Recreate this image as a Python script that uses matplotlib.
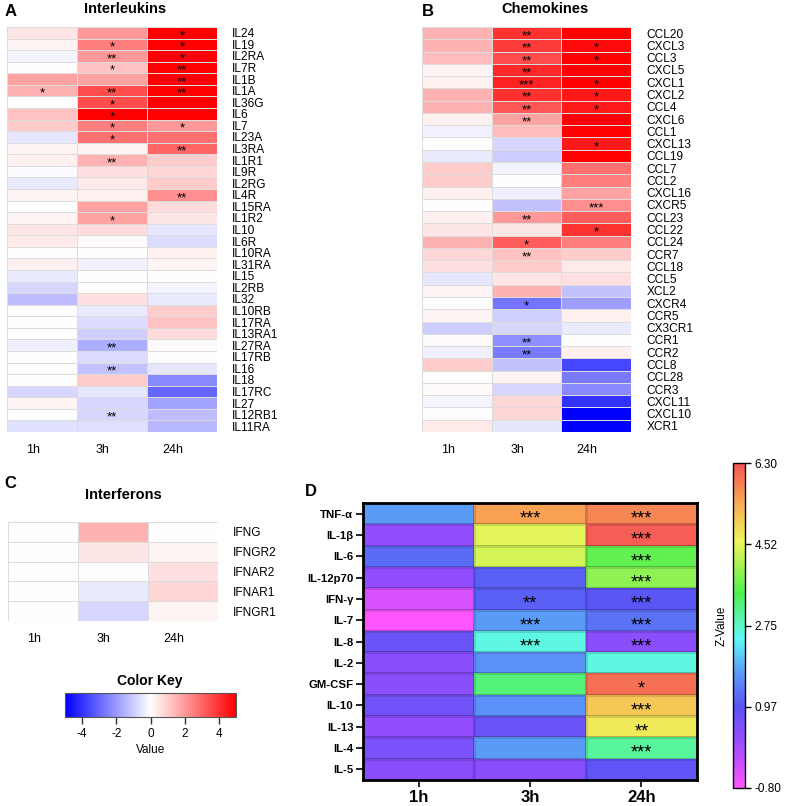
import numpy as np
import matplotlib
matplotlib.use('Agg')
import matplotlib.pyplot as plt
from matplotlib.colors import LinearSegmentedColormap, Normalize
from matplotlib.cm import ScalarMappable

plt.rcParams['font.family'] = ['Liberation Sans', 'DejaVu Sans']
plt.rcParams['axes.unicode_minus'] = False

# ---------------- data ----------------
timepoints = ['1h', '3h', '24h']

il_genes = ['IL24', 'IL19', 'IL2RA', 'IL7R', 'IL1B', 'IL1A', 'IL36G', 'IL6', 'IL7', 'IL23A',
            'IL3RA', 'IL1R1', 'IL9R', 'IL2RG', 'IL4R', 'IL15RA', 'IL1R2', 'IL10', 'IL6R',
            'IL10RA', 'IL31RA', 'IL15', 'IL2RB', 'IL32', 'IL10RB', 'IL17RA', 'IL13RA1',
            'IL27RA', 'IL17RB', 'IL16', 'IL18', 'IL17RC', 'IL27', 'IL12RB1', 'IL11RA']
il_1h = [0.5, 0.2, -0.2, 0.0, 1.8, 1.5, 0.0, 1.2, 1.0, -0.5, 0.2, 0.3, -0.1, -0.4, 0.2, 0.0,
         0.2, 0.5, 0.4, 0.0, 0.3, -0.4, -0.8, -1.3, 0.0, 0.0, 0.0, -0.3, 0.0, 0.0, 0.0, -0.8,
         0.2, 0.0, -0.6]
il_3h = [2.0, 2.5, 2.0, 1.2, 1.8, 3.5, 3.5, 5.0, 2.5, 2.8, 0.2, 1.5, 0.6, 0.4, 0.3, 1.8,
         1.8, 0.7, 0.1, 0.0, -0.3, 0.0, 0.0, 0.6, -0.4, -0.7, -0.9, -1.6, -0.7, -1.2, 1.0,
         -0.5, -0.8, -0.8, -0.6]
il_24h = [5.0, 5.0, 5.0, 5.0, 5.0, 5.0, 5.0, 5.0, 2.0, 2.8, 3.0, 1.0, 0.8, 1.0, 2.2, 0.7,
          0.5, -0.5, -0.7, 0.3, 0.2, 0.0, -0.2, -0.4, 1.0, 1.2, 0.7, 0.1, 0.0, -0.5, -2.3,
          -3.0, -1.8, -1.3, -1.4]
il_stars = {('IL24', '24h'): '*', ('IL19', '3h'): '*', ('IL19', '24h'): '*',
            ('IL2RA', '3h'): '**', ('IL2RA', '24h'): '*', ('IL7R', '3h'): '*',
            ('IL7R', '24h'): '**', ('IL1B', '24h'): '**', ('IL1A', '1h'): '*',
            ('IL1A', '3h'): '**', ('IL1A', '24h'): '**', ('IL36G', '3h'): '*',
            ('IL6', '3h'): '*', ('IL7', '3h'): '*', ('IL7', '24h'): '*',
            ('IL23A', '3h'): '*', ('IL3RA', '24h'): '**', ('IL1R1', '3h'): '**',
            ('IL4R', '24h'): '**', ('IL1R2', '3h'): '*', ('IL27RA', '3h'): '**',
            ('IL16', '3h'): '**', ('IL12RB1', '3h'): '**'}

ch_genes = ['CCL20', 'CXCL3', 'CCL3', 'CXCL5', 'CXCL1', 'CXCL2', 'CCL4', 'CXCL6', 'CCL1',
            'CXCL13', 'CCL19', 'CCL7', 'CCL2', 'CXCL16', 'CXCR5', 'CCL23', 'CCL22', 'CCL24',
            'CCR7', 'CCL18', 'CCL5', 'XCL2', 'CXCR4', 'CCR5', 'CX3CR1', 'CCR1', 'CCR2',
            'CCL8', 'CCL28', 'CCR3', 'CXCL11', 'CXCL10', 'XCR1']
ch_1h = [1.5, 1.5, 1.3, 0.2, 0.3, 1.5, 1.5, 0.3, -0.3, 0.0, -0.4, 1.0, 1.0, 0.3, 0.0, 0.3,
         0.5, 1.5, 0.8, 0.6, -0.5, 0.2, 0.0, 0.2, -1.0, 0.1, -0.3, 1.0, 0.0, 0.1, -0.2, 0.0,
         0.4]
ch_3h = [4.0, 3.8, 3.5, 4.2, 4.3, 4.0, 3.3, 1.8, 1.3, -0.8, -1.0, -0.2, 0.0, -0.3, -1.2,
         2.0, 0.5, 3.2, 1.2, 1.0, 0.5, 1.5, -2.7, -0.9, -0.8, -2.2, -2.6, -1.2, 0.2, -0.8,
         0.8, 0.8, -0.5]
ch_24h = [5.0, 4.8, 5.0, 5.0, 5.0, 4.5, 4.5, 5.0, 5.0, 4.5, 5.0, 2.8, 2.5, 1.8, 2.2, 3.2,
          4.0, 2.5, 1.0, 0.4, 0.6, -1.2, -1.9, 0.3, -0.4, 0.0, 0.3, -3.6, -2.6, -2.3, -4.0,
          -5.0, -5.0]
ch_stars = {('CCL20', '3h'): '**', ('CXCL3', '3h'): '**', ('CXCL3', '24h'): '*',
            ('CCL3', '3h'): '**', ('CCL3', '24h'): '*', ('CXCL5', '3h'): '**',
            ('CXCL1', '3h'): '***', ('CXCL1', '24h'): '*', ('CXCL2', '3h'): '**',
            ('CXCL2', '24h'): '*', ('CCL4', '3h'): '**', ('CCL4', '24h'): '*',
            ('CXCL6', '3h'): '**', ('CXCL13', '24h'): '*', ('CXCR5', '24h'): '***',
            ('CCL23', '3h'): '**', ('CCL22', '24h'): '*', ('CCL24', '3h'): '*',
            ('CCR7', '3h'): '**', ('CXCR4', '3h'): '*', ('CCR1', '3h'): '**',
            ('CCR2', '3h'): '**'}

ifn_genes = ['IFNG', 'IFNGR2', 'IFNAR2', 'IFNAR1', 'IFNGR1']
ifn_1h = [0.0, 0.0, 0.0, 0.0, 0.0]
ifn_3h = [1.5, 0.5, 0.0, -0.4, -0.8]
ifn_24h = [0.0, 0.2, 0.6, 0.8, 0.2]

cy_names = ['TNF-α', 'IL-1β', 'IL-6', 'IL-12p70', 'IFN-γ', 'IL-7', 'IL-8', 'IL-2', 'GM-CSF',
            'IL-10', 'IL-13', 'IL-4', 'IL-5']
cy_1h = [1.7, 0.3, 1.2, 0.3, -0.4, -0.8, 0.8, 0.4, 0.4, 0.7, 0.3, 0.6, 0.4]
cy_3h = [5.5, 4.5, 4.4, 1.1, 1.1, 1.7, 2.6, 1.6, 3.2, 1.6, 0.8, 1.7, 0.4]
cy_24h = [5.8, 6.2, 3.6, 3.9, 1.0, 1.3, 0.4, 2.6, 6.0, 5.1, 4.7, 3.0, 0.9]
cy_stars = {('TNF-α', '3h'): '***', ('TNF-α', '24h'): '***', ('IL-1β', '24h'): '***',
            ('IL-6', '24h'): '***', ('IL-12p70', '24h'): '***', ('IFN-γ', '3h'): '**',
            ('IFN-γ', '24h'): '***', ('IL-7', '3h'): '***', ('IL-7', '24h'): '***',
            ('IL-8', '3h'): '***', ('IL-8', '24h'): '***', ('GM-CSF', '24h'): '*',
            ('IL-10', '24h'): '***', ('IL-13', '24h'): '**', ('IL-4', '24h'): '***'}
z_min, z_max = -0.80, 6.30
z_ticklabels = ['-0.80', '0.97', '2.75', '4.52', '6.30']

# ---------------- layout helpers ----------------
W, H = 787, 806
fig = plt.figure(figsize=(W / 100, H / 100), dpi=100)


def add_ax(x0, y0, x1, y1):
    return fig.add_axes([x0 / W, 1 - y1 / H, (x1 - x0) / W, (y1 - y0) / H])


def ftext(x, y, s, **kw):
    fig.text(x / W, 1 - y / H, s, **kw)


def rwb_heatmap(ax, genes, cols, stars, star_size=9.5):
    data = np.column_stack(cols)
    n = len(genes)
    ax.pcolormesh(np.arange(4), np.arange(n + 1), data, cmap='bwr', vmin=-5, vmax=5,
                  edgecolors='#dcdcdc', linewidth=0.6)
    ax.set_xlim(0, 3)
    ax.set_ylim(n, 0)
    ax.yaxis.tick_right()
    ax.set_yticks(np.arange(n) + 0.5, genes)
    ax.set_xticks(np.arange(3) + 0.37, timepoints)
    ax.tick_params(axis='y', length=0, labelsize=8.6, pad=11)
    ax.tick_params(axis='x', length=0, labelsize=9, pad=9)
    for s in ax.spines.values():
        s.set_visible(False)
    for (g, t), s in stars.items():
        ax.text(timepoints.index(t) + 0.5, genes.index(g) + 0.5 + 0.28, s,
                ha='center', va='center', fontsize=star_size, color='black')


# ---------------- Panel A ----------------
axA = add_ax(7, 27, 217, 432)
rwb_heatmap(axA, il_genes, [il_1h, il_3h, il_24h], il_stars)
ftext(11, 11, 'A', fontsize=12, fontweight='bold', ha='center', va='center')
ftext(125, 9, 'Interleukins', fontsize=10.5, fontweight='bold', ha='center', va='center')

# ---------------- Panel B ----------------
axB = add_ax(422, 27, 631, 432)
rwb_heatmap(axB, ch_genes, [ch_1h, ch_3h, ch_24h], ch_stars)
ftext(428, 12, 'B', fontsize=12, fontweight='bold', ha='center', va='center')
ftext(545, 9, 'Chemokines', fontsize=10.5, fontweight='bold', ha='center', va='center')

# ---------------- Panel C ----------------
axC = add_ax(8, 522, 218, 621)
rwb_heatmap(axC, ifn_genes, [ifn_1h, ifn_3h, ifn_24h], {})
ftext(10, 484, 'C', fontsize=12, fontweight='bold', ha='center', va='center')
ftext(123, 495, 'Interferons', fontsize=10.5, fontweight='bold', ha='center', va='center')

# Color key
axK = add_ax(65, 693, 236, 717)
cbK = fig.colorbar(ScalarMappable(norm=Normalize(-5, 5), cmap='bwr'), cax=axK,
                   orientation='horizontal', ticks=[-4, -2, 0, 2, 4])
cbK.outline.set_edgecolor('#555555')
cbK.outline.set_linewidth(0.8)
axK.tick_params(axis='x', length=5, width=1, labelsize=8.5, color='#333333', pad=3)
axK.set_xlabel('Value', fontsize=8.5, labelpad=3)
ftext(150, 681, 'Color Key', fontsize=10, fontweight='bold', ha='center', va='center')

# ---------------- Panel D ----------------
d_cmap = LinearSegmentedColormap.from_list('zmap', [
    (0.00, '#ff55ff'), (0.14, '#9b4cff'), (0.25, '#5a55f5'), (0.36, '#5aa0f8'),
    (0.46, '#60f8f8'), (0.60, '#50f050'), (0.76, '#eef55a'), (0.88, '#f8a855'),
    (1.00, '#f55555')])

axD = add_ax(363, 503, 697, 780)
dataD = np.column_stack([cy_1h, cy_3h, cy_24h])
nD = len(cy_names)
axD.pcolormesh(np.arange(4), np.arange(nD + 1), dataD, cmap=d_cmap, vmin=z_min, vmax=z_max,
               edgecolors=(0, 0, 0, 0.12), linewidth=0.8)
axD.set_xlim(0, 3)
axD.set_ylim(nD, 0)
axD.set_yticks(np.arange(nD) + 0.5, cy_names)
axD.set_xticks(np.arange(3) + 0.5, timepoints)
axD.tick_params(axis='y', length=5, width=1.2, labelsize=8.2, pad=2)
axD.tick_params(axis='x', length=5, width=1.2, labelsize=12, pad=2)
for lab in axD.get_yticklabels() + axD.get_xticklabels():
    lab.set_fontweight('bold')
for s in axD.spines.values():
    s.set_linewidth(2)
for (g, t), s in cy_stars.items():
    axD.text(timepoints.index(t) + 0.5, cy_names.index(g) + 0.5 + 0.25, s,
             ha='center', va='center', fontsize=13, color='black')
ftext(311, 492, 'D', fontsize=12, fontweight='bold', ha='center', va='center')

axZ = add_ax(733, 463, 745, 788)
cbZ = fig.colorbar(ScalarMappable(norm=Normalize(z_min, z_max), cmap=d_cmap), cax=axZ,
                   ticks=np.linspace(z_min, z_max, 5))
cbZ.ax.set_yticklabels(z_ticklabels)
cbZ.outline.set_linewidth(1)
axZ.tick_params(axis='y', length=4, width=1, labelsize=8.5, pad=3)
axZ.yaxis.set_label_position('left')
axZ.set_ylabel('Z-Value', fontsize=8.5, labelpad=4)

fig.savefig('out.png', dpi=100)
